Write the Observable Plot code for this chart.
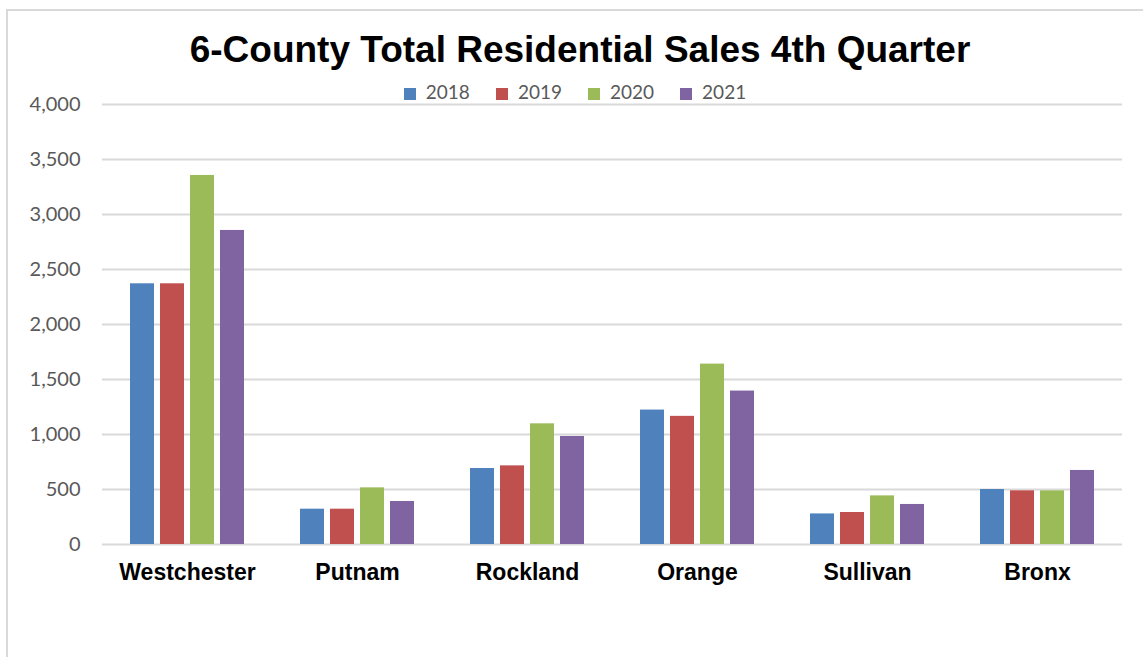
<!DOCTYPE html>
<html>
<head>
<meta charset="utf-8">
<script src="https://cdn.jsdelivr.net/npm/d3@7"></script>
<script src="https://cdn.jsdelivr.net/npm/@observablehq/plot@0.6"></script>
<style>
  html, body { margin: 0; padding: 0; background: #fff; }
  #wrap { position: relative; width: 1143px; height: 657px; overflow: hidden; }
  #frame { position: absolute; left: 6px; top: 9px; width: 1200px; height: 700px;
           border-left: 2px solid #d9d9d9; border-top: 2px solid #d9d9d9; }
  #title { position: absolute; left: 0; width: 1160px; top: 28px; text-align: center; z-index: 2;
           font-family: "Liberation Sans", Arial, sans-serif; font-weight: bold; font-size: 37px;
           color: #000; line-height: 44px; }
  #legend { position: absolute; left: 0; width: 1150px; top: 81px; text-align: center; z-index: 2;
            font-family: Lato, sans-serif; font-size: 19px; color: #595959; line-height: 22px; }
  #legend span.item { display: inline-block; margin: 0 13px; }
  #legend span.sw { display: inline-block; width: 12px; height: 12px; margin-right: 10px; vertical-align: -1px; }
  #chart { position: absolute; left: 0; top: 80px; z-index: 1; }
  #chart svg text { font-family: Lato, sans-serif; }
  #chart g[aria-label="y-axis tick label"] text { font-size: 20px; fill: #595959; }
  #chart g[aria-label="fx-axis tick label"] text { font-family: "Liberation Sans", Arial, sans-serif; font-weight: bold; font-size: 23px; fill: #000; }
</style>
</head>
<body>
<div id="wrap">
  <div id="frame"></div>
  <div id="chart"></div>
  <div id="title">6-County Total Residential Sales 4th Quarter</div>
  <div id="legend"></div>
</div>
<script>
const counties = ["Westchester", "Putnam", "Rockland", "Orange", "Sullivan", "Bronx"];
const years = ["2018", "2019", "2020", "2021"];
const sales2018 = [2370, 321, 691, 1222, 278, 500];
const sales2019 = [2370, 321, 715, 1165, 291, 488];
const sales2020 = [3355, 515, 1097, 1640, 442, 488];
const sales2021 = [2855, 391, 982, 1395, 364, 673];
const colors = ["#4F81BD", "#C0504D", "#9BBB59", "#8064A2"];
const yTicks = [0, 500, 1000, 1500, 2000, 2500, 3000, 3500, 4000];

const series = [sales2018, sales2019, sales2020, sales2021];
const rows = [];
counties.forEach((c, i) => years.forEach((y, j) => rows.push({county: c, year: y, value: series[j][i]})));

// legend
const legend = document.getElementById("legend");
years.forEach((y, j) => {
  const item = document.createElement("span");
  item.className = "item";
  const sw = document.createElement("span");
  sw.className = "sw";
  sw.style.background = colors[j];
  item.appendChild(sw);
  item.appendChild(document.createTextNode(y));
  legend.appendChild(item);
});

const chart = Plot.plot({
  width: 1143,
  height: 524,
  marginTop: 24,
  marginBottom: 60,
  marginLeft: 102,
  marginRight: 21,
  style: {background: "transparent"},
  fx: {domain: counties, padding: 0, label: null, axis: "bottom", tickSize: 0, tickPadding: 19},
  x: {domain: years, axis: null, paddingInner: 0.19, paddingOuter: 0.86},
  y: {domain: [0, 4000], ticks: yTicks, tickFormat: d3.format(","), tickSize: 0, tickPadding: 22, label: null},
  color: {domain: years, range: colors},
  marks: [
    Plot.ruleY(yTicks, {stroke: "#d9d9d9", strokeWidth: 2}),
    Plot.barY(rows, {fx: "county", x: "year", y: "value", fill: "year"})
  ]
});
document.getElementById("chart").appendChild(chart);
</script>
</body>
</html>
